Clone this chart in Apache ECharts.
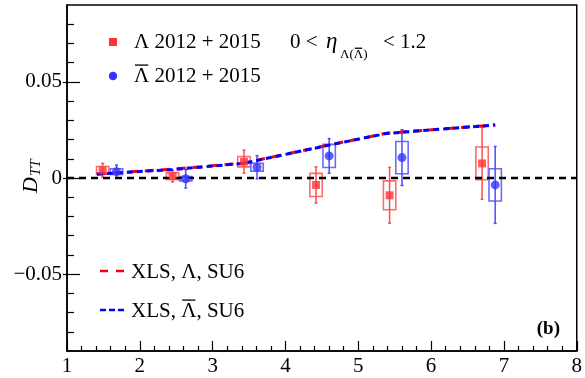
<!DOCTYPE html>
<html><head><meta charset="utf-8">
<script src="https://cdn.jsdelivr.net/npm/echarts@6/dist/echarts.min.js"></script>
<style>html,body{margin:0;padding:0;background:#fff}#c{width:585px;height:378px}</style>
</head><body><div id="c"></div>
<script>
// ---- data ----
const lamX    = [1.49, 2.45, 3.43, 4.42, 5.43, 6.70];
const lamY    = [0.0040, 0.0010, 0.0085, -0.0036, -0.0090, 0.0076];
const lamStat = [0.0036, 0.0030, 0.0060, 0.0094, 0.0145, 0.0187];
const lamSys  = [0.0020, 0.0018, 0.0027, 0.0060, 0.0075, 0.0085];

const alamX    = [1.68, 2.63, 3.61, 4.60, 5.60, 6.88];
const alamY    = [0.0033, -0.0004, 0.0056, 0.0115, 0.0106, -0.0036];
const alamStat = [0.0034, 0.0048, 0.0060, 0.0090, 0.0145, 0.0200];
const alamSys  = [0.0015, 0.0011, 0.0020, 0.0060, 0.0084, 0.0084];

const theoryX     = [1.41, 2.45, 3.42, 4.60, 5.39, 6.88];
const theoryLam   = [0.0021, 0.0046, 0.0077, 0.0172, 0.0233, 0.0276];
const theoryAlam  = [0.0020, 0.0044, 0.0076, 0.0171, 0.0232, 0.0276];

const zeroLineX = [1, 8];
const xTickLabels = ['1','2','3','4','5','6','7','8'];
const yMajorTicks = [-0.05, 0, 0.05];
const yMajorLabels = ['\u22120.05', '0', '0.05'];
const yMinorTicks = [-0.08,-0.07,-0.06,-0.04,-0.03,-0.02,-0.01,0.01,0.02,0.03,0.04,0.06,0.07,0.08];

// ---- rendering ----
const FF = '"Liberation Serif","Times New Roman",serif';
const FS = 21;
const BOXW = 0.085;
const ctx = document.createElement('canvas').getContext('2d');
function tw(t, size, style, weight){ ctx.font = (style||'normal')+' '+(weight||'normal')+' '+size+'px '+FF; return ctx.measureText(t).width; }

function pack(xs, ys, st, sy){ return xs.map((x,i)=>[x, ys[i], st[i], sy[i]]); }

function errRender(color, boxColor){
  return function(params, api){
    const x = api.value(0), y = api.value(1), s = api.value(2), b = api.value(3);
    const pT = api.coord([x, y+s]), pB = api.coord([x, y-s]);
    const tl = api.coord([x-BOXW, y+b]), br = api.coord([x+BOXW, y-b]);
    return {type:'group', children:[
      {type:'rect', shape:{x:tl[0], y:tl[1], width:br[0]-tl[0], height:br[1]-tl[1]}, style:{fill:'none', stroke:boxColor, lineWidth:1.6}},
      {type:'line', shape:{x1:pT[0], y1:pT[1], x2:pB[0], y2:pB[1]}, style:{stroke:color, lineWidth:1.5}},
      {type:'line', shape:{x1:pT[0]-1.5, y1:pT[1], x2:pT[0]+1.5, y2:pT[1]}, style:{stroke:color, lineWidth:1.5}},
      {type:'line', shape:{x1:pB[0]-1.5, y1:pB[1], x2:pB[0]+1.5, y2:pB[1]}, style:{stroke:color, lineWidth:1.5}}
    ]};
  };
}

function txt(x, y, t, size, extra){
  return {type:'text', x:x, y:y, style:Object.assign({text:t, fontSize:size, fontFamily:FF, fill:'#000', verticalAlign:'middle', align:'left'}, extra||{})};
}
function barLam(x, y, size){
  const w = tw('\u039B', size);
  return [txt(x, y, '\u039B', size), {type:'line', shape:{x1:x+1, y1:y-size*0.52, x2:x+w-1, y2:y-size*0.52}, style:{stroke:'#000', lineWidth:1.3}}];
}

const G = [];
// legend row 1
G.push({type:'rect', shape:{x:109, y:38, width:8, height:8}, style:{fill:'#ff3333'}});
G.push(txt(134, 42, '\u039B 2012 + 2015', FS));
G.push(txt(290, 42, '0 <', FS));
G.push(txt(326, 42, '\u03B7', 23, {fontStyle:'italic'}));
(function(){
  let x = 340;
  const y = 55, s = 13;
  G.push(txt(x, y, '\u039B(', s)); x += tw('\u039B(', s);
  barLam(x, y, s).forEach(e=>G.push(e)); x += tw('\u039B', s);
  G.push(txt(x, y, ')', s));
  G.push(txt(383, 42, '< 1.2', FS));
})();
// legend row 2
G.push({type:'circle', shape:{cx:113, cy:76, r:4.2}, style:{fill:'#3333ff'}});
barLam(134, 76, FS).forEach(e=>G.push(e));
G.push(txt(134 + tw('\u039B', FS), 76, ' 2012 + 2015', FS));
// bottom legend
G.push({type:'line', shape:{x1:100, y1:271, x2:125, y2:271}, style:{stroke:'#ff0000', lineWidth:2.5, lineDash:[8,8]}});
G.push(txt(131, 272, 'XLS, \u039B, SU6', FS));
G.push({type:'line', shape:{x1:100, y1:310, x2:125, y2:310}, style:{stroke:'#0000ff', lineWidth:2.5, lineDash:[6,3]}});
(function(){
  const a = 'XLS, ';
  G.push(txt(131, 311, a, FS));
  const x = 131 + tw(a, FS);
  barLam(x, 311, FS).forEach(e=>G.push(e));
  G.push(txt(x + tw('\u039B', FS), 311, ', SU6', FS));
})();
// (b)
G.push(txt(560, 329, '(b)', 19, {fontWeight:'bold', align:'right'}));
// y axis title D_TT (rotated)
G.push({type:'group', x:31, y:193, rotation:Math.PI/2, children:[
  {type:'text', x:0, y:0, style:{text:'D', fontSize:22, fontStyle:'italic', fontFamily:FF, fill:'#000', verticalAlign:'middle', align:'left'}},
  {type:'text', x:17, y:5, style:{text:'TT', fontSize:15, fontStyle:'italic', fontFamily:FF, fill:'#000', verticalAlign:'middle', align:'left'}}
]});

const axisLbl = {fontFamily:FF, fontSize:FS, color:'#000'};
const option = {
  animation:false,
  backgroundColor:'#fff',
  grid:{left:67, right:4, top:5, bottom:27, show:true, borderColor:'#000', borderWidth:1.5, backgroundColor:'transparent'},
  xAxis:[{
    type:'value', min:1, max:8, interval:1, position:'bottom',
    axisLine:{show:true, onZero:false, lineStyle:{color:'#000', width:1.5}},
    axisTick:{show:true, inside:true, length:10, lineStyle:{color:'#000', width:1.2}},
    minorTick:{show:true, splitNumber:5, length:5, lineStyle:{color:'#000', width:1.2}},
    axisLabel:Object.assign({margin:5, formatter:(v)=>xTickLabels[Math.round(v)-1]}, axisLbl),
    splitLine:{show:false}
  }],
  yAxis:[{
    type:'value', min:-0.09, max:0.09, position:'left',
    axisLine:{show:true, onZero:false, lineStyle:{color:'#000', width:1.5}},
    axisTick:{show:true, inside:true, length:13, customValues:yMajorTicks, lineStyle:{color:'#000', width:1.2}},
    axisLabel:Object.assign({margin:5, customValues:yMajorTicks, formatter:(v)=>{const i=yMajorTicks.findIndex(t=>Math.abs(t-v)<1e-9); return i>=0?yMajorLabels[i]:'';}}, axisLbl),
    splitLine:{show:false}
  },{
    type:'value', min:-0.09, max:0.09, position:'left',
    axisLine:{show:false, onZero:false},
    axisTick:{show:true, inside:true, length:7, customValues:yMinorTicks, lineStyle:{color:'#000', width:1.2}},
    axisLabel:{show:false}, splitLine:{show:false}
  },{
    type:'value', min:-0.09, max:0.09, position:'left',
    axisLine:{show:false, onZero:false},
    axisTick:{show:true, inside:false, length:4, customValues:yMajorTicks, lineStyle:{color:'#000', width:1.2}},
    axisLabel:{show:false}, splitLine:{show:false}
  }],
  series:[
    {type:'custom', name:'lamErr', renderItem:errRender('#ff4d4d','#ff6a6a'), data:pack(lamX, lamY, lamStat, lamSys), z:2, encode:{x:0, y:1}},
    {type:'custom', name:'alamErr', renderItem:errRender('#4d4dff','#6a6aff'), data:pack(alamX, alamY, alamStat, alamSys), z:2, encode:{x:0, y:1}},
    {type:'line', name:'zero', data:zeroLineX.map(x=>[x,0]), showSymbol:false, lineStyle:{color:'#000', width:2.5, type:[7,5]}, z:3, silent:true},
    {type:'line', name:'XLS lam', data:theoryX.map((x,i)=>[x, theoryLam[i]]), showSymbol:false, lineStyle:{color:'#ff0000', width:3, type:[9,7]}, z:4},
    {type:'line', name:'XLS alam', data:theoryX.map((x,i)=>[x, theoryAlam[i]]), showSymbol:false, lineStyle:{color:'#0000ff', width:3, type:[6,4]}, z:5},
    {type:'scatter', name:'lam', data:lamX.map((x,i)=>[x, lamY[i]]), symbol:'rect', symbolSize:8, itemStyle:{color:'#ff3333'}, z:6},
    {type:'scatter', name:'alam', data:alamX.map((x,i)=>[x, alamY[i]]), symbol:'circle', symbolSize:9, itemStyle:{color:'#3333ff'}, z:6}
  ],
  graphic:G
};
const chart = echarts.init(document.getElementById('c'));
chart.setOption(option);
</script></body></html>
